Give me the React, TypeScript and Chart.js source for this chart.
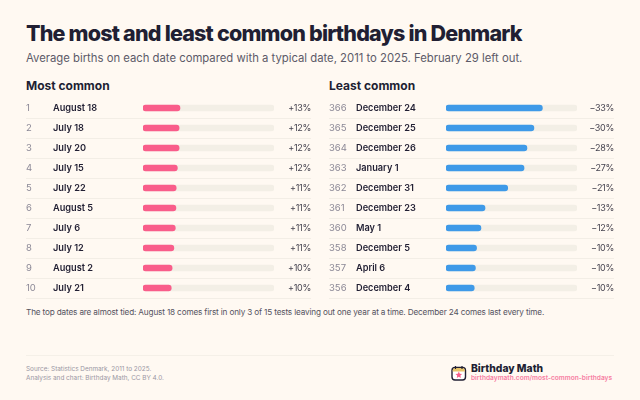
import { useEffect, useRef } from "react"
import { Chart, registerables, type Plugin } from "chart.js"

Chart.register(...registerables)

const FONT = "Inter, sans-serif"
const INK = "#211f33"
const SCALE_MAX = 45

const mostRanks = ["1", "2", "3", "4", "5", "6", "7", "8", "9", "10"]
const mostDates = ["August 18", "July 18", "July 20", "July 15", "July 22", "August 5", "July 6", "July 12", "August 2", "July 21"]
const mostValues = [12.7, 12.4, 12.4, 11.8, 11.4, 11.3, 11.1, 10.6, 10.0, 9.7]
const mostLabels = ["+13%", "+12%", "+12%", "+12%", "+11%", "+11%", "+11%", "+11%", "+10%", "+10%"]

const leastRanks = ["366", "365", "364", "363", "362", "361", "360", "358", "357", "356"]
const leastDates = ["December 24", "December 25", "December 26", "January 1", "December 31", "December 23", "May 1", "December 5", "April 6", "December 4"]
const leastValues = [33.1, 30.2, 27.8, 26.8, 21.2, 13.4, 12.0, 10.5, 10.1, 9.7]
const leastLabels = ["−33%", "−30%", "−28%", "−27%", "−21%", "−13%", "−12%", "−10%", "−10%", "−10%"]

function rowsPlugin(ranks: string[], values: string[]): Plugin<"bar"> {
  return {
    id: "rows",
    beforeDatasetsDraw(chart) {
      const { ctx } = chart
      const y = chart.scales.y
      ctx.save()
      ctx.strokeStyle = "#f3eee6"
      ctx.lineWidth = 1
      ranks.forEach((_, i) => {
        const yy = Math.round(y.getPixelForValue(i)) + 10.5
        ctx.beginPath()
        ctx.moveTo(0, yy)
        ctx.lineTo(285, yy)
        ctx.stroke()
      })
      ctx.restore()
    },
    afterDatasetsDraw(chart) {
      const { ctx } = chart
      const y = chart.scales.y
      const dates = chart.data.labels as string[]
      ctx.save()
      ctx.textBaseline = "middle"
      ranks.forEach((rank, i) => {
        const yy = y.getPixelForValue(i)
        ctx.textAlign = "left"
        ctx.fillStyle = "#8b8896"
        ctx.font = `400 9.5px ${FONT}`
        ctx.fillText(rank, 0, yy)
        ctx.fillStyle = INK
        ctx.font = `600 9.2px ${FONT}`
        ctx.fillText(dates[i], 27, yy)
        ctx.textAlign = "right"
        ctx.fillStyle = "#45434f"
        ctx.font = `400 9px ${FONT}`
        ctx.letterSpacing = "-0.3px"
        ctx.fillText(values[i], 285, yy)
        ctx.letterSpacing = "0px"
      })
      ctx.restore()
    },
  }
}

function Panel({ left, dates, ranks, values, labels, color }: {
  left: number
  dates: string[]
  ranks: string[]
  values: number[]
  labels: string[]
  color: string
}) {
  const canvasRef = useRef<HTMLCanvasElement>(null)

  useEffect(() => {
    if (!canvasRef.current) return
    const chart = new Chart(canvasRef.current, {
      type: "bar",
      data: {
        labels: dates,
        datasets: [
          { data: values, backgroundColor: color, order: 1, grouped: false, barThickness: 6, borderRadius: 3, borderSkipped: false },
          { data: dates.map(() => SCALE_MAX), backgroundColor: "#f3efe6", order: 2, grouped: false, barThickness: 6, borderRadius: 3, borderSkipped: false },
        ],
      },
      options: {
        indexAxis: "y",
        responsive: false,
        animation: false,
        layout: { padding: { left: 117, right: 39, top: 0, bottom: 1 } },
        plugins: { legend: { display: false }, tooltip: { enabled: false } },
        scales: {
          x: { display: false, min: 0, max: SCALE_MAX },
          y: { display: false },
        },
      },
      plugins: [rowsPlugin(ranks, labels)],
    })
    return () => chart.destroy()
  }, [])

  return (
    <canvas
      ref={canvasRef}
      width={287}
      height={201}
      style={{ position: "absolute", left, top: 98, width: 287, height: 201 }}
    />
  )
}

function Text({ x, y, size, weight, color, children, spacing }: {
  x: number
  y: number
  size: number
  weight: number
  color: string
  spacing?: number
  children: string
}) {
  return (
    <div style={{ position: "absolute", left: x, top: y, fontSize: size, fontWeight: weight, color, lineHeight: 1, whiteSpace: "nowrap", letterSpacing: spacing }}>
      {children}
    </div>
  )
}

export default function App() {
  return (
    <div style={{ position: "fixed", left: 0, top: 0, width: 640, height: 400, overflow: "hidden", background: "#fff9f2", fontFamily: FONT }}>
      <Text x={26} y={23} size={21.5} weight={800} color={INK} spacing={-0.8}>The most and least common birthdays in Denmark</Text>
      <Text x={26} y={53} size={11.3} weight={400} color="#5c5a68">Average births on each date compared with a typical date, 2011 to 2025. February 29 left out.</Text>
      <Text x={26} y={80} size={12} weight={700} color={INK}>Most common</Text>
      <Text x={329} y={80} size={12} weight={700} color={INK}>Least common</Text>
      <Panel left={26} dates={mostDates} ranks={mostRanks} values={mostValues} labels={mostLabels} color="#f95d8a" />
      <Panel left={329} dates={leastDates} ranks={leastRanks} values={leastValues} labels={leastLabels} color="#3f9ae8" />
      <Text x={26} y={308} size={8.2} weight={400} color="#55535f" spacing={-0.16}>The top dates are almost tied: August 18 comes first in only 3 of 15 tests leaving out one year at a time. December 24 comes last every time.</Text>
      <div style={{ position: "absolute", left: 26, top: 355, width: 588, height: 1, background: "#f5f0e8" }} />
      <Text x={26} y={366} size={6.4} weight={400} color="#9a97a3">Source: Statistics Denmark, 2011 to 2025.</Text>
      <Text x={26} y={375} size={6.4} weight={400} color="#9a97a3">Analysis and chart: Birthday Math, CC BY 4.0.</Text>
      <svg style={{ position: "absolute", left: 451, top: 365 }} width={16} height={16} viewBox="0 0 16 16">
        <rect x="1" y="2.5" width="13.5" height="12.5" rx="3" fill="#fff" stroke={INK} strokeWidth="1.4" />
        <path d="M1.7 6.5V5a2.4 2.4 0 0 1 2.4-2h7.3a2.4 2.4 0 0 1 2.4 2v1.5z" fill="#e9c46a" />
        <path d="M4.5 1v3M11 1v3" stroke={INK} strokeWidth="1.2" />
        <path d="M7.8 6.6l1 2.1 2.3.3-1.7 1.6.4 2.3-2-1.1-2 1.1.4-2.3-1.7-1.6 2.3-.3z" fill="#f95d8a" />
      </svg>
      <Text x={471} y={363} size={10.3} weight={800} color={INK}>Birthday Math</Text>
      <Text x={471} y={375} size={6.6} weight={600} color="#f77fa3">birthdaymath.com/most-common-birthdays</Text>
    </div>
  )
}
